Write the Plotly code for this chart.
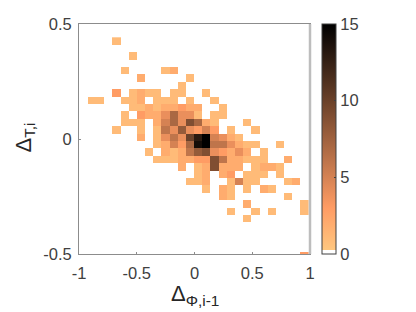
import plotly.graph_objects as go

# Counts per bin; rows run from the top of the plot downward, columns left to right.
counts = [
 [0,0,0,0,1,0,0,0,0,0,0,0,0,0,0,0,0,0,0,0,0,0,0,0,0,0,0,0],
 [0,0,0,0,0,0,0,0,0,0,0,0,0,0,0,0,0,0,0,0,0,0,0,0,0,0,0,0],
 [0,0,0,0,0,0,1,0,0,0,0,0,0,0,0,0,0,0,0,0,0,0,0,0,0,0,0,0],
 [0,0,0,0,0,0,0,0,0,0,0,0,0,0,0,0,0,0,0,0,0,0,0,0,0,0,0,0],
 [0,0,0,0,0,1,0,0,0,0,1,2,0,0,0,0,0,0,0,0,0,0,0,0,0,0,0,0],
 [0,0,0,0,0,0,0,2,0,0,0,0,0,1,0,0,0,0,0,0,0,0,0,0,0,0,0,0],
 [0,0,0,0,0,0,0,0,0,0,0,0,1,0,0,0,0,0,0,0,0,0,0,0,0,0,0,0],
 [0,0,0,0,3,0,1,2,1,1,0,1,1,0,0,1,0,0,0,0,0,0,0,0,0,0,0,0],
 [0,1,1,0,0,1,1,2,0,1,1,1,0,1,0,0,1,0,0,0,0,0,0,0,0,0,0,0],
 [0,0,0,0,0,0,1,1,2,1,2,2,3,2,2,0,0,1,0,0,0,0,0,0,0,0,0,0],
 [0,0,0,0,0,1,0,3,2,2,4,7,4,4,1,0,1,1,0,0,0,0,0,0,0,0,0,0],
 [0,0,0,0,0,1,1,1,0,2,5,7,4,9,7,2,1,0,0,0,1,0,0,0,0,0,0,0],
 [0,0,0,0,1,0,0,1,0,1,6,4,8,4,3,5,3,0,1,0,0,1,0,0,0,0,0,0],
 [0,0,0,0,0,0,0,2,0,1,4,6,4,10,13,15,5,4,2,1,0,0,0,0,0,0,0,0],
 [0,0,0,0,0,0,0,0,0,1,2,5,3,7,14,15,6,6,4,2,1,1,0,0,1,0,0,0],
 [0,0,0,0,0,0,0,0,1,0,2,1,2,6,8,9,4,3,2,4,2,0,1,0,0,0,0,0],
 [0,0,0,0,0,0,0,0,0,1,1,1,2,2,3,3,9,6,2,2,1,1,1,0,0,2,0,0],
 [0,0,0,0,0,0,0,0,0,0,0,0,2,0,1,2,9,2,2,2,0,1,2,2,1,0,0,0],
 [0,0,0,0,0,0,0,0,0,0,0,0,0,0,1,2,0,2,3,0,1,1,1,0,1,0,0,0],
 [0,0,0,0,0,0,0,0,0,0,0,0,0,1,1,2,0,0,1,5,1,1,0,0,0,1,2,0],
 [0,0,0,0,0,0,0,0,0,0,0,0,0,0,0,1,0,2,1,0,1,0,2,1,0,0,0,0],
 [0,0,0,0,0,0,0,0,0,0,0,0,0,0,0,0,0,2,1,0,0,0,0,0,0,1,0,0],
 [0,0,0,0,0,0,0,0,0,0,0,0,0,0,0,0,0,0,0,0,2,0,0,0,0,0,0,1],
 [0,0,0,0,0,0,0,0,0,0,0,0,0,0,0,0,0,0,1,0,0,1,0,1,0,0,0,1],
 [0,0,0,0,0,0,0,0,0,0,0,0,0,0,0,0,0,0,0,0,1,0,0,0,0,0,0,0],
 [0,0,0,0,0,0,0,0,0,0,0,0,0,0,0,0,0,0,0,0,0,0,0,0,0,0,0,0],
 [0,0,0,0,0,0,0,0,0,0,0,0,0,0,0,0,0,0,0,0,0,0,0,0,0,0,0,0],
 [0,0,0,0,0,0,0,0,0,0,0,0,0,0,0,0,0,0,0,0,0,0,0,0,0,0,0,0],
 [0,0,0,0,0,0,0,0,0,0,0,0,0,0,0,0,0,0,0,0,0,0,0,0,0,0,0,0],
 [0,0,0,0,0,0,0,0,0,0,0,0,0,0,0,0,0,0,0,0,0,0,0,0,0,0,0,3],
]
x_ticks = [-1, -0.5, 0, 0.5, 1]
x_labels = ["-1", "-0.5", "0", "0.5", "1"]
y_ticks = [-0.5, 0, 0.5]
y_labels = ["-0.5", "0", "0.5"]
cbar_ticks = [0, 5, 10, 15]

TEXT = "#404040"
FONT = "Liberation Sans"
AXIS = "#8c8c8c"

w = 1 / 64
colorscale = [
    [0, "#ffffff"], [w, "#ffffff"], [w, "#ffc77f"],
    [0.2, "#ff9c64"], [1, "#000000"],
]

fig = go.Figure(go.Heatmap(
    z=counts, x0=-0.9593, dx=0.0707, y0=0.426, dy=-0.03217,
    zmin=0, zmax=15, colorscale=colorscale, zsmooth=False, hoverinfo="skip",
    colorbar=dict(
        x=1.052, xanchor="left", y=0.5, yanchor="middle", len=1.0, lenmode="fraction",
        thickness=14, thicknessmode="pixels", xpad=0, ypad=0,
        outlinecolor="#404040", outlinewidth=1,
        tickvals=cbar_ticks, ticktext=[str(v) for v in cbar_ticks],
        ticks="inside", ticklen=2, tickcolor="#404040", tickwidth=1,
        tickfont=dict(family=FONT, size=16.5, color=TEXT),
    ),
))

fig.update_layout(
    width=408, height=304, autosize=False,
    margin=dict(l=71, r=106, t=16, b=58, autoexpand=False),
    paper_bgcolor="white", plot_bgcolor="white",
    font=dict(family=FONT, color=TEXT),
    xaxis=dict(
        range=[-1, 1], tickvals=x_ticks, ticktext=x_labels, ticks="inside", ticklen=2,
        tickcolor=AXIS, showgrid=False, zeroline=False, showline=True, mirror=True,
        linecolor=AXIS, linewidth=1, tickfont=dict(family=FONT, size=16.5, color=TEXT),
        ticklabelstandoff=4, automargin=False,
    ),
    yaxis=dict(
        range=[-0.5, 0.5], tickvals=y_ticks, ticktext=y_labels, ticks="inside", ticklen=2,
        tickcolor=AXIS, showgrid=False, zeroline=False, showline=True, mirror=True,
        linecolor=AXIS, linewidth=1, tickfont=dict(family=FONT, size=16.5, color=TEXT),
        ticklabelstandoff=3, automargin=False,
    ),
    annotations=[
        dict(text="Δ<sub>Φ,i-1</sub>", xref="paper", yref="paper", x=0.5, y=-0.108,
             xanchor="center", yanchor="top", showarrow=False,
             font=dict(family=FONT, size=22, color="#262626")),
        dict(text="Δ<sub>T,i</sub>", xref="paper", yref="paper", x=-0.235, y=0.505,
             xanchor="center", yanchor="middle", showarrow=False, textangle=-90,
             font=dict(family=FONT, size=22, color="#262626")),
    ],
    shapes=[dict(type="line", xref="paper", yref="paper", x0=1, x1=1, y0=0, y1=1,
                 line=dict(color="#bdbdbd", width=2.5))],
)

fig.write_html("out.html", config={"displayModeBar": False})
